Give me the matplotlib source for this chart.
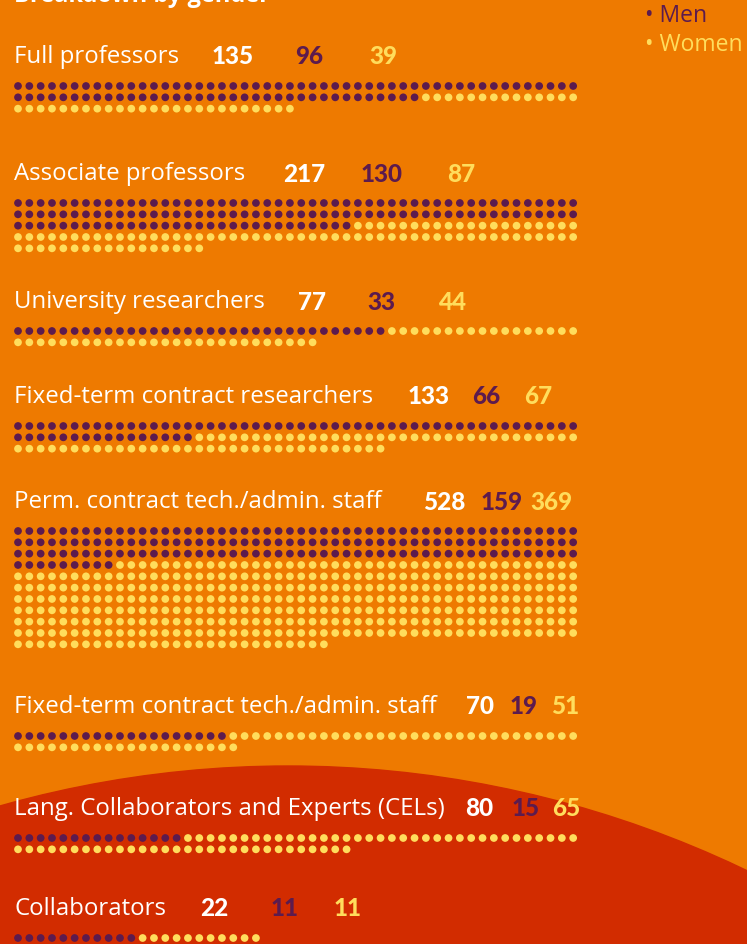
import matplotlib.pyplot as plt
from matplotlib.patches import Circle

# data
categories = ["Full professors", "Associate professors", "University researchers",
              "Fixed-term contract researchers", "Perm. contract tech./admin. staff",
              "Fixed-term contract tech./admin. staff",
              "Lang. Collaborators and Experts (CELs)", "Collaborators"]
totals = [135, 217, 77, 133, 528, 70, 80, 22]
men = [96, 130, 33, 66, 159, 19, 15, 11]
women = [39, 87, 44, 67, 369, 51, 65, 11]
# dots as drawn in the original (full professors shows 86 purple dots)
men_dots = [86, 130, 33, 66, 159, 19, 15, 11]
women_dots = [39, 87, 44, 67, 369, 51, 65, 11]

# layout
W, H = 747, 945
bg = "#EE7A00"
red = "#D22C00"
purple = "#5C1B4E"
yellow = "#FFDD5C"
label_y = [57, 174, 302, 397, 502, 707, 809, 909]
num_x = [(212, 295, 369), (283, 361, 447), (298, 367, 438), (408, 472, 524),
         (423, 481, 530), (466, 510, 551), (465, 512, 552), (200, 271, 334)]
per_row = 50
pitch = 11.33
x0 = 18

fig = plt.figure(figsize=(W / 100, H / 100), dpi=100, facecolor=bg)
ax = fig.add_axes([0, 0, 1, 1])
ax.set_xlim(0, W)
ax.set_ylim(H, 0)
ax.axis("off")
ax.set_facecolor(bg)

ax.add_patch(Circle((288, 1826), 1059, color=red, zorder=0))

lab_font = "Open Sans"
num_font = "Lato"
ax.text(14, -4, "Breakdown by gender", color="white", fontsize=17,
        fontweight="bold", family=lab_font, va="center")
ax.text(645, 16, "• Men", color=purple, fontsize=16.5, family=lab_font, va="center")
ax.text(645, 45, "• Women", color=yellow, fontsize=16.5, family=lab_font, va="center")

for i, cat in enumerate(categories):
    y = label_y[i]
    ax.text(14, y, cat, color="white", fontsize=17.3, family=lab_font, va="center")
    nx_, mx, wx = num_x[i]
    ax.text(nx_, y, str(totals[i]), color="white", fontsize=17.5, family=num_font,
            fontweight="black", va="center")
    ax.text(mx, y, str(men[i]), color=purple, fontsize=17.5, family=num_font,
            fontweight="black", va="center")
    ax.text(wx, y, str(women[i]), color=yellow, fontsize=17.5, family=num_font,
            fontweight="black", va="center")

    n = men_dots[i] + women_dots[i]
    xs = [x0 + (k % per_row) * pitch for k in range(n)]
    ys = [y + 30 + (k // per_row) * pitch for k in range(n)]
    cols = [purple] * men_dots[i] + [yellow] * women_dots[i]
    ax.scatter(xs, ys, s=31, c=cols, linewidths=0, zorder=3)

fig.savefig("out.png", dpi=100, facecolor=bg)
